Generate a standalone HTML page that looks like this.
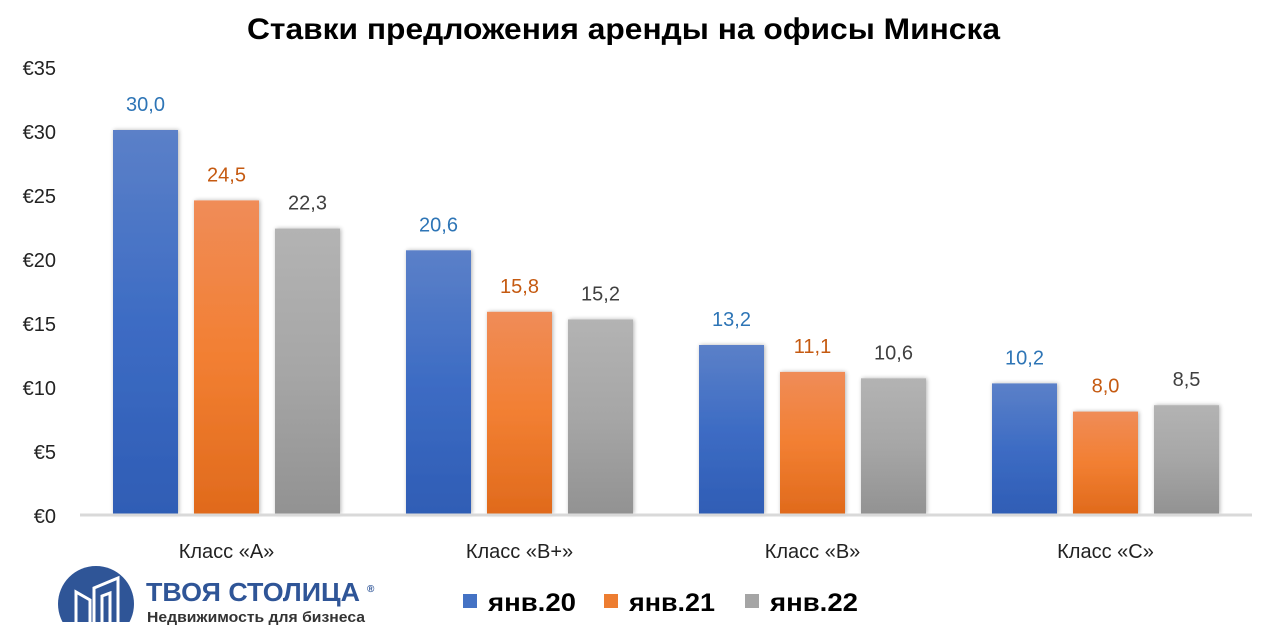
<!DOCTYPE html>
<html><head><meta charset="utf-8"><style>
html,body{margin:0;padding:0;background:#fff;}
svg{display:block;font-family:"Liberation Sans","DejaVu Sans",sans-serif;}
</style></head><body>
<svg width="1276" height="639" viewBox="0 0 1276 639" xmlns="http://www.w3.org/2000/svg">
<defs>
<linearGradient id="gb" x1="0" y1="0" x2="0" y2="1"><stop offset="0" stop-color="#5b80c8"/><stop offset="0.5" stop-color="#3d6cc4"/><stop offset="1" stop-color="#2f5db5"/></linearGradient>
<linearGradient id="go" x1="0" y1="0" x2="0" y2="1"><stop offset="0" stop-color="#f08c58"/><stop offset="0.5" stop-color="#f27f32"/><stop offset="1" stop-color="#e06a1c"/></linearGradient>
<linearGradient id="gg" x1="0" y1="0" x2="0" y2="1"><stop offset="0" stop-color="#b3b3b3"/><stop offset="0.5" stop-color="#a6a6a6"/><stop offset="1" stop-color="#929292"/></linearGradient>
<filter id="sh" x="-20%" y="-5%" width="140%" height="110%"><feGaussianBlur in="SourceAlpha" stdDeviation="2"/><feOffset dx="1" dy="0"/><feComponentTransfer><feFuncA type="linear" slope="0.3"/></feComponentTransfer><feMerge><feMergeNode/><feMergeNode in="SourceGraphic"/></feMerge></filter>
</defs>
<text x="247" y="39" font-size="30" font-weight="bold" fill="#000" textLength="753" lengthAdjust="spacingAndGlyphs">Ставки предложения аренды на офисы Минска</text>
<g font-size="20" fill="#222" text-anchor="end">
<text x="56" y="75">€35</text><text x="56" y="139">€30</text><text x="56" y="203">€25</text><text x="56" y="267">€20</text><text x="56" y="331">€15</text><text x="56" y="395">€10</text><text x="56" y="459">€5</text><text x="56" y="523">€0</text>
</g>
<g filter="url(#sh)">
<rect x="113" y="130" width="65" height="384" fill="url(#gb)"/>
<rect x="194" y="200.4" width="65" height="313.6" fill="url(#go)"/>
<rect x="275" y="228.6" width="65" height="285.4" fill="url(#gg)"/>
<rect x="406" y="250.3" width="65" height="263.7" fill="url(#gb)"/>
<rect x="487" y="311.8" width="65" height="202.2" fill="url(#go)"/>
<rect x="568" y="319.4" width="65" height="194.6" fill="url(#gg)"/>
<rect x="699" y="345" width="65" height="169" fill="url(#gb)"/>
<rect x="780" y="371.9" width="65" height="142.1" fill="url(#go)"/>
<rect x="861" y="378.3" width="65" height="135.7" fill="url(#gg)"/>
<rect x="992" y="383.4" width="65" height="130.6" fill="url(#gb)"/>
<rect x="1073" y="411.6" width="65" height="102.4" fill="url(#go)"/>
<rect x="1154" y="405.2" width="65" height="108.8" fill="url(#gg)"/>
</g>
<line x1="80" y1="515" x2="1252" y2="515" stroke="#d9d9d9" stroke-width="3"/>
<g font-size="20" text-anchor="middle">
<text x="145.5" y="111" fill="#2e75b6">30,0</text>
<text x="226.5" y="181.4" fill="#c55a11">24,5</text>
<text x="307.5" y="209.6" fill="#404040">22,3</text>
<text x="438.5" y="231.3" fill="#2e75b6">20,6</text>
<text x="519.5" y="292.8" fill="#c55a11">15,8</text>
<text x="600.5" y="300.4" fill="#404040">15,2</text>
<text x="731.5" y="326" fill="#2e75b6">13,2</text>
<text x="812.5" y="352.9" fill="#c55a11">11,1</text>
<text x="893.5" y="359.3" fill="#404040">10,6</text>
<text x="1024.5" y="364.4" fill="#2e75b6">10,2</text>
<text x="1105.5" y="392.6" fill="#c55a11">8,0</text>
<text x="1186.5" y="386.2" fill="#404040">8,5</text>
</g>
<g font-size="20" text-anchor="middle" fill="#222">
<text x="226.5" y="558">Класс «А»</text>
<text x="519.5" y="558">Класс «В+»</text>
<text x="812.5" y="558">Класс «В»</text>
<text x="1105.5" y="558">Класс «С»</text>
</g>
<rect x="463" y="594" width="14" height="14" fill="#4472c4"/>
<text x="488" y="611" font-size="25" font-weight="bold" fill="#000" textLength="88" lengthAdjust="spacingAndGlyphs">янв.20</text>
<rect x="604" y="594" width="14" height="14" fill="#ed7d31"/>
<text x="629" y="611" font-size="25" font-weight="bold" fill="#000" textLength="86" lengthAdjust="spacingAndGlyphs">янв.21</text>
<rect x="745" y="594" width="14" height="14" fill="#a5a5a5"/>
<text x="770" y="611" font-size="25" font-weight="bold" fill="#000" textLength="88" lengthAdjust="spacingAndGlyphs">янв.22</text>
<clipPath id="lc"><rect x="50" y="555" width="100" height="67"/></clipPath>
<circle cx="96" cy="604" r="38" fill="#2f5597" clip-path="url(#lc)"/>
<g fill="none" stroke="#fff" stroke-width="3">
<path d="M76 622 V592 L90 600 V622"/>
<path d="M94 622 V588 L118 578 V622"/>
<path d="M102 622 V596 L110 593 V622"/>
</g>
<text x="146" y="601" font-size="26" font-weight="bold" fill="#2f5597" textLength="214" lengthAdjust="spacingAndGlyphs">ТВОЯ СТОЛИЦА</text>
<text x="367" y="592" font-size="10" font-weight="bold" fill="#2f5597">®</text>
<text x="147" y="622" font-size="15" font-weight="bold" fill="#333" textLength="218" lengthAdjust="spacingAndGlyphs">Недвижимость для бизнеса</text>
</svg>
</body></html>
